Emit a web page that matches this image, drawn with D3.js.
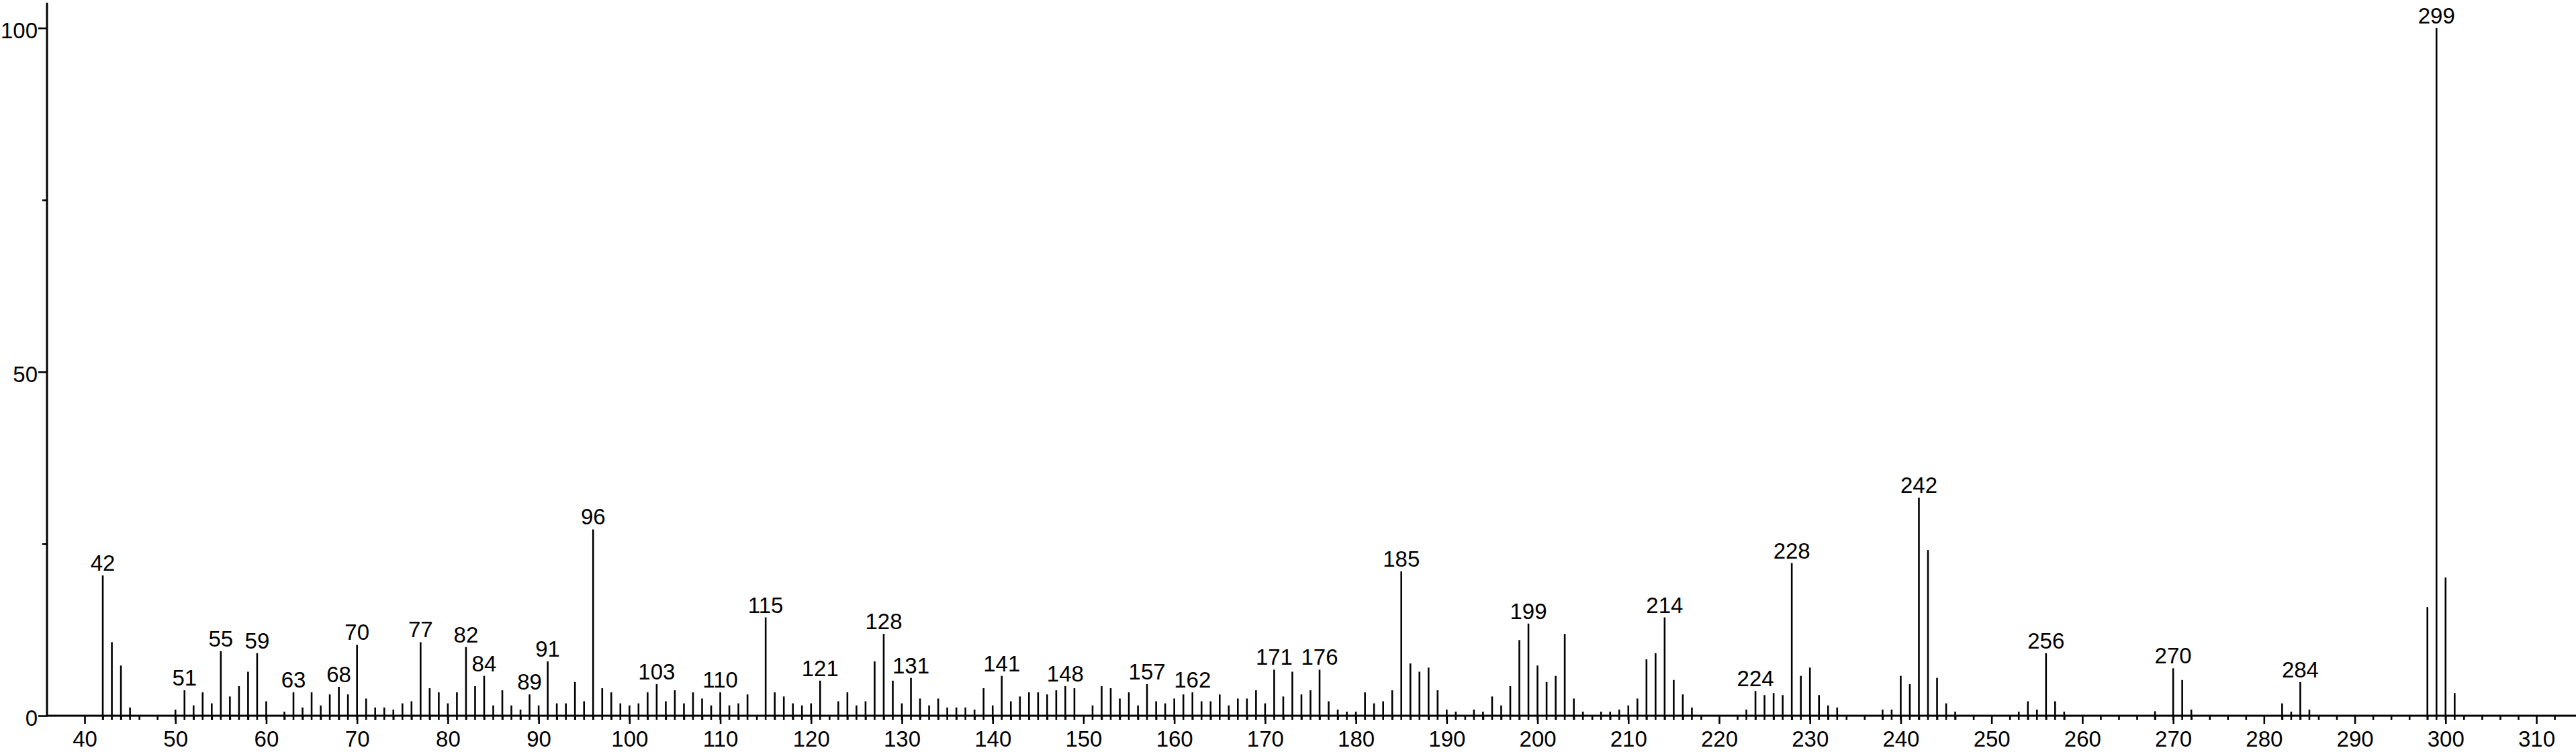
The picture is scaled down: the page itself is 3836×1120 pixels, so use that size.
<!DOCTYPE html>
<html>
<head>
<meta charset="utf-8">
<script src="https://cdn.jsdelivr.net/npm/d3@7"></script>
<style>
  html, body { margin: 0; padding: 0; background: #fff; }
  svg { display: block; }
  text { font-family: "Liberation Sans", Arial, sans-serif; }
</style>
</head>
<body>
<svg id="chart" width="3836" height="1120"></svg>
<script>
// ---- Data (m/z vs relative intensity) ----
const mz = [
  42,43,44,45,50,51,52,53,54,55,56,57,58,59,60,62,63,64,65,66,67,68,69,70,71,72,73,74,75,76,77,78,79,80,81,
  82,83,84,85,86,87,88,89,90,91,92,93,94,95,96,97,98,99,100,101,102,103,104,105,106,107,108,109,110,111,112,113,
  115,116,117,118,119,120,121,123,124,125,126,127,128,129,130,131,132,133,134,135,136,137,138,139,140,141,142,
  143,144,145,146,147,148,149,151,152,153,154,155,156,157,158,159,160,161,162,163,164,165,166,167,168,169,170,
  171,172,173,174,175,176,177,178,179,180,181,182,183,184,185,186,187,188,189,190,191,193,194,195,196,197,198,
  199,200,201,202,203,204,205,207,208,209,210,211,212,213,214,215,216,217,223,224,225,226,227,228,229,230,231,
  232,233,238,239,240,241,242,243,244,245,246,253,254,255,256,257,258,268,270,271,272,282,283,284,285,298,299,300,301
];
const intensity = [
  20.4,10.7,7.3,1.2,0.9,3.7,1.5,3.4,1.8,9.4,2.8,4.3,6.4,9.1,2.1,0.6,3.4,1.2,3.4,1.5,3.1,4.2,3.1,10.3,2.5,1.2,1.2,0.9,1.8,2.1,10.7,4.0,3.4,1.8,3.4,
  10.0,4.3,5.8,1.5,3.7,1.5,0.9,3.1,1.5,7.9,1.8,1.8,4.9,2.1,27.1,4.0,3.4,1.8,1.5,1.8,3.4,4.6,2.1,3.7,1.8,3.4,2.5,1.5,3.4,1.5,1.8,3.1,
  14.3,3.4,2.8,1.8,1.5,1.8,5.1,2.1,3.4,1.5,2.1,7.9,11.9,5.1,1.8,5.5,2.5,1.5,2.5,1.2,1.2,1.2,0.9,4.0,1.5,5.8,2.1,
  2.8,3.4,3.4,3.1,3.7,4.3,4.0,1.5,4.3,4.0,2.5,3.4,1.5,4.6,2.1,1.8,2.5,3.1,3.4,2.1,2.1,3.1,1.5,2.5,2.5,3.7,1.8,
  6.7,2.8,6.4,3.1,3.7,6.7,2.1,0.9,0.6,0.6,3.4,1.8,2.1,3.7,21.0,7.6,6.4,7.0,3.7,0.9,0.6,0.9,0.6,2.8,1.5,4.3,11.0,
  13.4,7.3,4.9,5.8,11.9,2.5,0.6,0.6,0.6,0.9,1.5,2.5,8.2,9.1,14.3,5.2,3.1,1.2,0.9,3.6,3.0,3.3,3.0,22.2,5.8,7.0,3.0,
  1.5,1.2,0.9,0.9,5.8,4.6,31.7,24.1,5.5,1.8,0.6,0.6,2.1,0.9,9.1,2.1,0.6,0.65,6.9,5.2,0.9,1.8,0.6,4.9,0.9,15.8,100,20.1,3.3
];
const labeledPeaks = [42,51,55,59,63,68,70,77,82,84,89,91,96,103,110,115,121,128,131,141,148,157,162,171,176,185,199,214,224,228,242,256,270,284,299];
const xTickValues = d3.range(40, 311, 10);
const xMinorTickValues = d3.range(40, 314, 2).filter(v => v % 10 !== 0);
const yTickValues = [0, 50, 100];
const yMinorTickValues = [25, 75];

// ---- Layout ----
const svg = d3.select("#chart");
const W = 3836, H = 1120;
const FONT = 33;
const x = d3.scaleLinear().domain([40, 310]).range([126, 3777]);
const y = d3.scaleLinear().domain([0, 100]).range([1066, 41.7]);
const axisLeftX = 70, axisTop = 4;

const peaks = mz.map((m, i) => ({ mz: m, v: intensity[i] }));

// bars (sticks)
svg.append("g").selectAll("line").data(peaks).join("line")
  .attr("x1", d => x(d.mz)).attr("x2", d => x(d.mz))
  .attr("y1", y(0) + 6).attr("y2", d => y(d.v))
  .attr("stroke", "#000").attr("stroke-width", 2.6);

// x axis minor ticks
const gxMinor = svg.append("g").attr("transform", `translate(0,${y(0)})`)
  .call(d3.axisBottom(x).tickValues(xMinorTickValues).tickSize(6).tickFormat(""));
gxMinor.select(".domain").remove();

// x axis major ticks
const gx = svg.append("g").attr("transform", `translate(0,${y(0)})`)
  .call(d3.axisBottom(x).tickValues(xTickValues).tickSize(12).tickPadding(10.5).tickFormat(d3.format("d")));
gx.select(".domain").remove();
gx.selectAll("text").attr("font-size", FONT).attr("fill", "#000")
  .style("font-family", '"Liberation Sans", Arial, sans-serif');

[gx, gxMinor].forEach(g => g.selectAll("line").attr("stroke", "#000").attr("stroke-width", 2.6));

// baseline
svg.append("line").attr("x1", axisLeftX).attr("x2", W).attr("y1", y(0)).attr("y2", y(0))
  .attr("stroke", "#000").attr("stroke-width", 3);

// y axis
const gyMinor = svg.append("g").attr("transform", `translate(${axisLeftX},0)`)
  .call(d3.axisLeft(y).tickValues(yMinorTickValues).tickSize(7).tickFormat(""));
gyMinor.select(".domain").remove();
const gy = svg.append("g").attr("transform", `translate(${axisLeftX},0)`)
  .call(d3.axisLeft(y).tickValues(yTickValues).tickSize(13).tickPadding(1).tickFormat(d3.format("d")));
gy.select(".domain").remove();
gy.selectAll("text").attr("font-size", FONT).attr("fill", "#000").attr("dy", "0.45em")
  .style("font-family", '"Liberation Sans", Arial, sans-serif');
[gy, gyMinor].forEach(g => g.selectAll("line").attr("stroke", "#000").attr("stroke-width", 2.6));

svg.append("line").attr("x1", axisLeftX).attr("x2", axisLeftX).attr("y1", axisTop).attr("y2", y(0) + 1.5)
  .attr("stroke", "#000").attr("stroke-width", 3);

// peak labels
const labeled = peaks.filter(d => labeledPeaks.includes(d.mz));
svg.append("g").selectAll("text").data(labeled).join("text")
  .attr("x", d => x(d.mz)).attr("y", d => y(d.v) - 7)
  .attr("text-anchor", "middle").attr("font-size", FONT).attr("fill", "#000")
  .text(d => d.mz);
</script>
</body>
</html>
